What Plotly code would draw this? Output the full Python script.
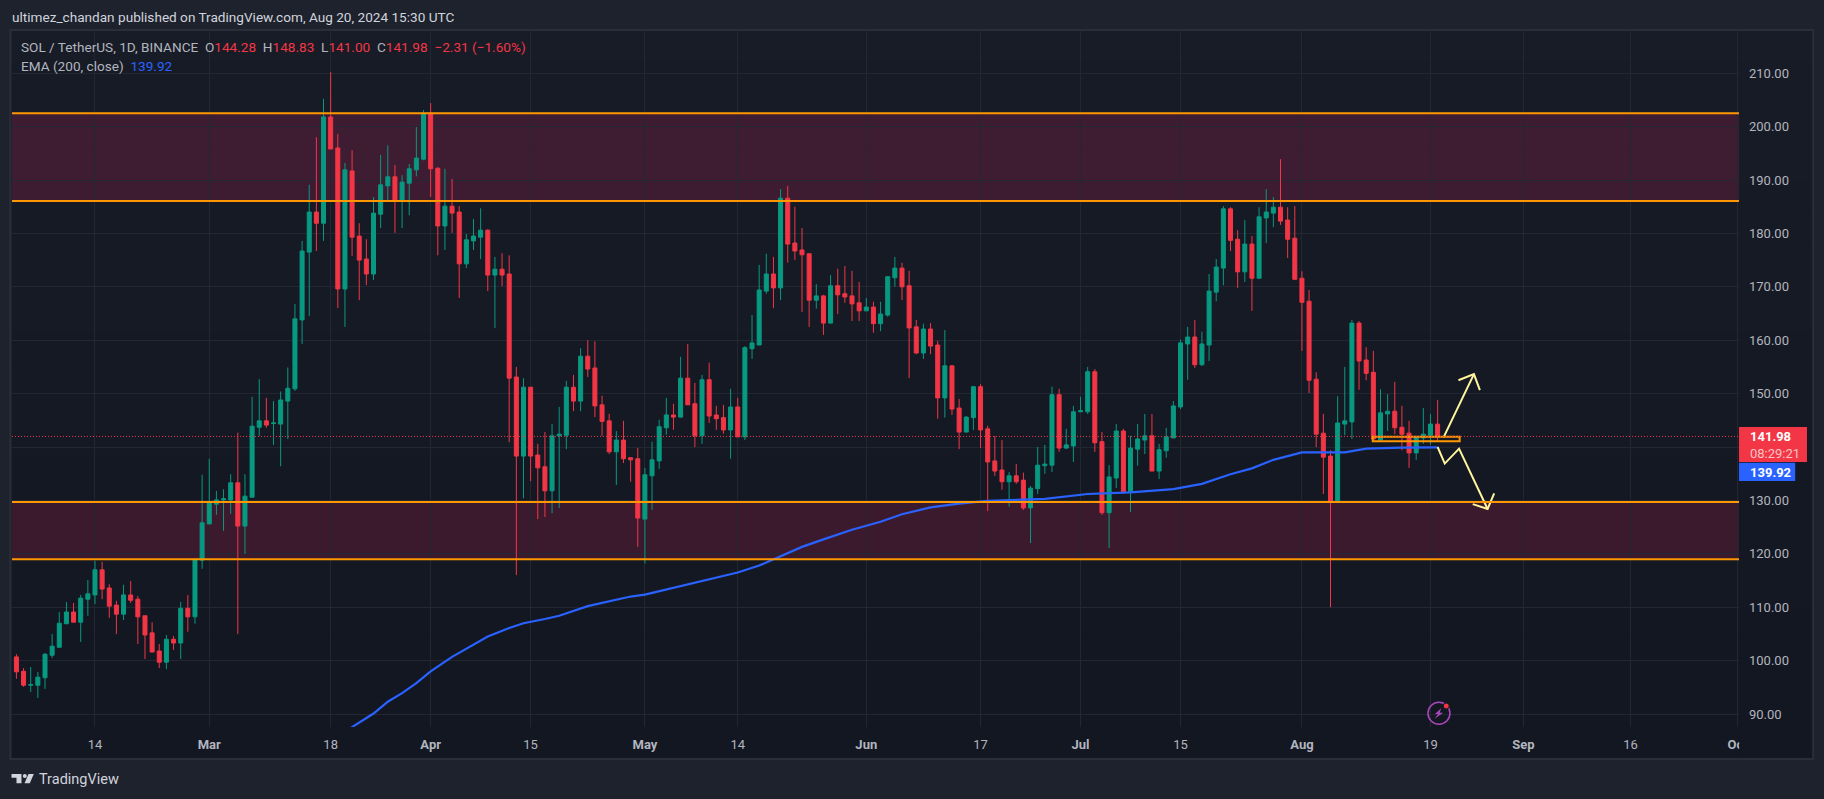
import plotly.graph_objects as go
import pandas as pd

# ---------- data ----------
first_day = "2024-02-03"
opens = [100.7,98.0,95.4,95.4,96.8,101.0,102.5,106.9,109.1,107.2,111.5,112.3,117.0,113.6,110.4,108.7,112.3,111.5,108.4,105.2,
 101.8,99.7,104.0,103.3,109.8,108.2,118.8,125.6,129.3,130.1,130.1,133.3,125.2,130.6,143.7,144.9,144.4,144.3,148.6,150.9,
 163.8,176.5,184.0,181.9,201.8,196.0,169.6,191.7,179.5,175.2,172.4,183.6,188.9,190.6,186.2,189.4,191.9,193.9,202.5,192.2,
 181.4,185.1,184.0,174.3,178.6,179.3,180.6,172.2,173.3,172.4,153.1,138.3,151.2,138.5,136.3,131.8,142.1,142.2,151.2,148.6,
 157.0,154.8,147.9,144.9,139.1,141.3,138.0,137.8,126.5,134.6,137.4,143.6,146.0,145.6,152.9,148.1,142.1,152.6,146.0,145.5,
 143.2,147.5,141.9,158.4,159.1,169.2,172.4,169.8,186.6,178.2,176.9,176.2,167.5,168.3,163.2,170.2,168.7,168.3,167.0,165.5,
 166.2,163.1,164.7,171.7,173.5,170.2,162.5,157.6,162.1,159.1,149.2,155.2,147.3,142.8,145.5,151.3,143.4,137.4,135.7,133.5,
 134.6,133.8,128.6,132.2,136.5,136.6,149.8,139.8,140.2,146.6,146.6,154.1,141.0,127.7,134.2,143.0,131.6,139.6,141.3,142.1,
 135.5,139.3,141.7,147.5,159.3,160.6,155.4,159.1,169.0,173.5,184.6,178.9,172.8,178.0,171.6,182.9,183.8,184.9,182.5,179.1,
 171.6,167.3,152.7,142.6,138.3,129.7,144.3,144.7,163.2,156.3,154.0,141.3,146.2,146.7,143.7,142.6,138.9,141.7,142.2,144.28]
highs = [101.2,98.6,98.8,97.9,101.4,105.0,109.1,111.0,110.8,112.3,115.1,118.7,118.5,114.3,111.2,114.2,114.9,112.1,108.4,107.2,
 103.1,104.8,104.6,111.0,112.3,119.0,134.8,137.8,131.8,132.1,134.9,142.7,134.9,149.4,152.7,149.2,148.6,150.4,154.9,166.8,
 178.6,189.1,198.0,205.2,210.2,198.6,193.2,195.6,181.9,178.9,186.8,194.7,196.5,192.8,190.9,193.0,199.9,203.1,204.4,192.4,
 192.1,190.2,185.1,179.9,182.7,184.7,180.8,175.6,176.3,175.9,155.0,152.9,151.2,140.6,142.8,144.3,147.5,152.4,153.5,158.5,
 160.0,159.8,149.6,146.2,143.0,144.9,138.0,139.8,136.1,141.0,145.1,149.2,148.1,156.9,159.3,152.0,153.5,155.8,147.7,147.9,
 150.9,149.2,158.9,164.7,174.1,176.2,175.6,188.3,188.9,185.0,181.0,176.2,170.5,168.5,172.2,173.4,173.9,173.0,170.9,167.9,
 167.2,167.2,171.9,175.6,174.5,173.0,163.8,163.1,163.2,159.9,161.9,155.2,149.0,145.8,151.4,151.8,144.0,142.1,141.3,135.3,
 136.8,135.2,132.7,140.0,140.4,151.3,150.9,143.4,147.7,149.4,155.0,154.6,142.8,136.6,144.3,143.4,142.1,144.3,146.2,146.2,
 140.6,143.6,148.6,160.1,162.5,163.8,161.6,172.4,175.2,185.1,184.9,180.6,182.5,179.5,184.9,188.3,186.8,193.9,184.9,185.1,
 172.9,169.4,154.0,146.2,139.4,149.5,155.0,163.8,163.6,158.7,158.0,150.8,149.9,152.2,147.7,144.9,141.9,147.3,146.2,148.83]
lows = [96.6,95.1,94.1,93.0,94.7,100.5,102.5,106.9,107.2,103.5,108.4,110.6,111.5,108.0,105.0,107.6,110.8,103.1,100.3,101.6,
 98.6,98.4,102.0,100.3,105.4,106.9,117.2,125.6,127.3,124.3,127.5,105.0,120.0,130.6,142.1,143.6,140.4,136.4,141.5,150.5,
 159.3,164.5,176.7,178.6,195.8,166.0,162.5,175.8,167.5,170.3,171.3,181.0,186.1,180.1,181.0,183.4,190.7,193.7,186.8,175.9,
 176.9,180.1,167.9,173.5,176.9,175.2,169.2,162.3,170.1,140.9,116.0,130.4,133.6,126.5,126.9,127.6,128.6,139.6,146.7,146.7,
 153.1,145.6,142.1,138.7,132.9,137.0,133.5,121.3,118.2,128.2,135.9,142.3,143.2,145.5,147.9,140.0,140.6,144.5,143.2,142.5,
 137.8,141.9,141.3,156.5,159.1,168.7,166.0,167.5,174.5,175.0,165.3,162.5,165.9,161.0,163.2,164.9,167.0,163.6,163.6,165.5,
 161.4,161.7,164.4,170.0,167.5,152.9,157.4,156.5,157.4,145.3,145.5,146.0,139.6,142.8,143.2,139.8,128.0,134.6,132.0,128.8,
 133.1,128.2,122.0,131.2,135.0,135.3,139.1,139.6,137.2,146.6,146.2,139.1,127.3,121.1,132.3,131.2,127.8,136.5,138.7,135.5,
 134.0,138.0,141.7,147.1,152.6,154.8,155.2,156.1,167.3,170.3,176.7,169.8,170.9,165.5,171.6,178.2,181.2,181.6,175.4,171.4,
 158.0,150.1,140.0,131.2,110.0,129.5,142.2,141.5,150.7,152.5,141.5,141.3,143.0,142.4,139.4,136.1,137.6,140.6,140.4,141.00]
closes = [97.9,95.4,95.5,96.9,101.2,102.7,107.0,109.1,107.2,111.7,112.5,117.0,113.4,110.2,108.7,112.3,111.3,108.2,104.8,101.6,
 99.7,104.0,103.3,109.8,108.2,119.0,125.8,129.5,130.1,130.3,133.3,125.2,130.8,143.9,144.9,144.1,144.5,148.8,151.0,164.0,
 176.7,184.0,181.9,201.8,195.8,169.6,191.9,179.3,175.0,172.4,183.8,189.1,190.6,186.1,189.6,192.1,194.1,202.5,192.1,181.4,
 185.1,183.8,174.3,178.8,179.5,180.6,172.2,173.3,172.2,152.9,138.3,151.2,138.3,136.1,131.8,142.1,142.4,151.2,148.6,157.0,
 154.6,147.7,144.8,139.1,141.3,137.8,137.6,126.7,134.8,137.6,143.8,146.0,145.6,152.9,147.9,142.1,152.6,145.8,145.3,143.2,
 147.5,141.9,158.6,159.5,169.4,172.4,169.8,186.6,178.0,176.7,176.0,167.5,168.3,163.2,170.2,168.5,168.1,166.8,165.5,166.2,
 163.1,164.9,171.9,173.5,170.0,162.3,157.6,162.1,158.9,149.2,155.2,147.1,142.8,145.6,151.3,143.2,137.2,135.5,133.5,134.6,
 133.5,128.6,132.3,136.6,136.8,149.8,139.8,140.4,146.6,146.8,154.1,140.8,127.7,134.4,143.0,131.6,139.8,141.5,142.1,135.5,
 139.5,141.9,147.7,159.5,160.6,155.4,159.3,169.2,173.7,184.6,178.7,172.8,178.0,171.6,183.1,184.0,184.9,182.3,178.9,171.4,
 167.1,152.5,142.4,138.1,129.7,144.5,144.9,163.2,156.1,153.8,141.5,146.4,146.7,143.6,142.4,138.9,141.9,142.4,144.3,141.98]

ema_dates = ["2024-03-18","2024-03-24","2024-03-26","2024-03-28","2024-03-30","2024-04-01","2024-04-04","2024-04-06","2024-04-09",
 "2024-04-12","2024-04-14","2024-04-17","2024-04-19","2024-04-23","2024-04-25","2024-04-29","2024-05-01","2024-05-03","2024-05-07",
 "2024-05-11","2024-05-14","2024-05-17","2024-05-19","2024-05-23","2024-05-26","2024-05-30","2024-06-03","2024-06-06","2024-06-10",
 "2024-06-14","2024-06-18","2024-06-26","2024-07-02","2024-07-08","2024-07-14","2024-07-18","2024-07-22","2024-07-25","2024-07-28",
 "2024-08-01","2024-08-07","2024-08-10","2024-08-15","2024-08-20"]
ema_values = [85.0,90.1,92.3,93.9,95.8,98.0,100.7,102.2,104.5,106.1,107.0,107.8,108.4,110.2,110.8,112.0,112.35,113.0,114.3,115.5,
 116.5,117.8,119.0,121.3,122.7,124.5,126.0,127.4,128.7,129.4,129.9,130.3,131.2,131.5,132.1,133.1,134.9,136.0,137.6,139.0,139.0,
 139.7,139.9,139.92]

zone_upper = (186.07, 202.5)
zone_lower = (119.0, 129.7)
box_dates = ("2024-08-10 22:00", "2024-08-23 02:00")
box_prices = (141.07, 141.93)
last_price = 141.98

arrow_up_x = ["2024-08-20 20:00","2024-08-25 02:00"]
arrow_up_y = [141.8,153.65]
head_up_x = ["2024-08-22 22:00","2024-08-25 02:00","2024-08-25 22:00"]
head_up_y = [152.5,153.65,150.65]
arrow_dn_x = ["2024-08-20 00:00","2024-08-21 00:00","2024-08-23 00:00","2024-08-27 00:00"]
arrow_dn_y = [140.0,136.9,139.7,128.4]
head_dn_x = ["2024-08-24 22:00","2024-08-27 00:00","2024-08-27 22:00"]
head_dn_y = [129.3,128.4,131.3]

x_tick_dates = ["2024-02-14","2024-03-01","2024-03-18","2024-04-01","2024-04-15","2024-05-01","2024-05-14","2024-06-01",
                "2024-06-17","2024-07-01","2024-07-15","2024-08-01","2024-08-19","2024-09-01","2024-09-16","2024-10-01"]
x_tick_text = ["14","<b>Mar</b>","18","<b>Apr</b>","15","<b>May</b>","14","<b>Jun</b>","17","<b>Jul</b>","15","<b>Aug</b>","19",
               "<b>Sep</b>","16","<b>Oct</b>"]
y_ticks = [90,100,110,120,130,140,150,160,170,180,190,200,210]
y_ticks_hidden_by_tags = [140]

dates = pd.date_range(first_day, periods=len(opens), freq="D")

# ---------- layout helpers (pixel placement of the page furniture) ----------
W, H = 1824, 799
L, R, T, B = 11.5, 1738.8, 30.0, 727.0
def px(x): return (x - L) / (R - L)
def py(y): return 1 - (y - T) / (B - T)
FONT = "Roboto"
OUTER = "#1e222d"
GREEN, RED = "#089981", "#F23645"
ORANGE = "#FF9800"
YELLOW = "#FFF59D"
BLUE = "#2962FF"
GREY = "#b2b5be"

shapes = []
def rect(x0, y0, x1, y1, fill, layer="below", line=None, lw=0):
    shapes.append(dict(type="rect", xref="paper", yref="paper", x0=px(x0), x1=px(x1), y0=py(y0), y1=py(y1),
                       fillcolor=fill, line=dict(color=line or fill, width=lw), layer=layer))

# pane gradient
steps = 24
for i in range(steps):
    t = i / (steps - 1)
    c_ = "rgb(%d,%d,%d)" % (24 - 5 * t, 28 - 5 * t, 39 - 5 * t)
    rect(10, 30 + i * 729 / steps, 1813, 30 + (i + 1) * 729 / steps + 0.5, c_)

# zones
for lo, hi in (zone_upper, zone_lower):
    shapes.append(dict(type="rect", xref="paper", yref="y", x0=0, x1=1, y0=lo, y1=hi,
                       fillcolor="rgba(160,30,75,0.29)", line=dict(width=0), layer="below"))
    for v in (lo, hi):
        shapes.append(dict(type="line", xref="paper", yref="y", x0=0, x1=1, y0=v, y1=v,
                           line=dict(color=ORANGE, width=2), layer="above"))
shapes.append(dict(type="rect", xref="x", yref="y", x0=box_dates[0], x1=box_dates[1], y0=box_prices[0], y1=box_prices[1],
                   line=dict(color=ORANGE, width=2), layer="above"))
shapes.append(dict(type="line", xref="paper", yref="y", x0=0, x1=1, y0=last_price, y1=last_price,
                   line=dict(color=RED, width=1, dash="1px,2px"), layer="above"))

# clip of the last time label, frame, price tags
rect(1739, 728, 1813, 758, "#131722", layer="above")
shapes.append(dict(type="rect", xref="paper", yref="paper", x0=px(10), x1=px(1813), y0=py(30), y1=py(759),
                   line=dict(color="#2a2e39", width=2), layer="above"))
rect(1738.8, 427, 1806.8, 462, RED, layer="above")
rect(1738.8, 462.7, 1795, 481, BLUE, layer="above")

# lightning badge
def poly(points, fill=None, line=None, lw=0, close=True):
    p = "M " + " L ".join(f"{px(x):.6f},{py(y):.6f}" for x, y in points) + (" Z" if close else "")
    shapes.append(dict(type="path", xref="paper", yref="paper", path=p, fillcolor=fill or "rgba(0,0,0,0)",
                       line=dict(color=line or "rgba(0,0,0,0)", width=lw), layer="above"))
shapes.append(dict(type="circle", xref="paper", yref="paper", x0=px(1427.7), x1=px(1449.7), y0=py(724.3), y1=py(702.3),
                   line=dict(color="#AB47BC", width=1.5), fillcolor="rgba(0,0,0,0)", layer="above"))
poly([(1441, 708.3), (1434.7, 714), (1438, 714), (1434, 719), (1443, 712.7), (1439.4, 712.7)], fill="#AB47BC")
shapes.append(dict(type="circle", xref="paper", yref="paper", x0=px(1443), x1=px(1449), y0=py(709), y1=py(703),
                   line=dict(color="#131722", width=1), fillcolor=RED, layer="above"))

# TradingView logo
poly([(11, 774), (21, 774), (21, 783.3), (16, 783.3), (16, 777.7), (11, 777.7)], fill="#d1d4dc")
shapes.append(dict(type="circle", xref="paper", yref="paper", x0=px(22.3), x1=px(26.3), y0=py(778), y1=py(774),
                   line=dict(width=0), fillcolor="#d1d4dc", layer="above"))
poly([(28, 774), (33.3, 774), (29.3, 783.3), (24, 783.3)], fill="#d1d4dc")

annotations = []
def text(x, y, s, size=13, color=GREY):
    annotations.append(dict(xref="paper", yref="paper", x=px(x), y=py(y), text=s, showarrow=False, xanchor="left",
                            yanchor="middle", align="left", borderpad=0,
                            font=dict(family=FONT, size=size, color=color)))

text(10, 17, "ultimez_chandan published on TradingView.com, Aug 20, 2024 15:30 UTC", 13.6, "#d1d4dc")
def c(s): return f'<span style="color:{RED}">{s}</span>'
text(20, 47, "SOL / TetherUS, 1D, BINANCE  O" + c("144.28") + "  H" + c("148.83") + "  L" + c("141.00") + "  C" + c("141.98")
     + "  " + c("−2.31 (−1.60%)"), 13.6, GREY)
text(20, 66, "EMA (200, close)  " + f'<span style="color:{BLUE}">139.92</span>', 13.6, GREY)
text(1749, 445, '<b>141.98</b><br><span style="color:#fbc4c8">08:29:21</span>', 13, "#ffffff")
text(1749, 472, "<b>139.92</b>", 13, "#ffffff")
text(38, 780, "TradingView", 14.5, "#d1d4dc")

fig = go.Figure()
fig.add_trace(go.Candlestick(
    x=dates, open=opens, high=highs, low=lows, close=closes, whiskerwidth=0,
    increasing=dict(line=dict(color=GREEN, width=1), fillcolor=GREEN),
    decreasing=dict(line=dict(color=RED, width=1), fillcolor=RED),
    name="SOL / TetherUS"))
fig.add_trace(go.Scatter(x=ema_dates, y=ema_values, mode="lines", line=dict(color=BLUE, width=2.2), name="EMA (200, close)"))
for xs, ys in ((arrow_up_x, arrow_up_y), (head_up_x, head_up_y), (arrow_dn_x, arrow_dn_y), (head_dn_x, head_dn_y)):
    fig.add_trace(go.Scatter(x=xs, y=ys, mode="lines", line=dict(color=YELLOW, width=2), showlegend=False))

fig.update_layout(
    width=W, height=H, autosize=False, showlegend=False,
    margin=dict(l=L, r=W - R, t=T, b=H - B, pad=0),
    paper_bgcolor=OUTER, plot_bgcolor="rgba(0,0,0,0)",
    boxgap=0.44, boxgroupgap=0,
    font=dict(family=FONT, size=13, color=GREY),
    shapes=shapes, annotations=annotations,
    xaxis=dict(type="date", range=["2024-02-02 09:07", "2024-10-01 04:48"], rangeslider=dict(visible=False),
               tickmode="array", tickvals=x_tick_dates, ticktext=x_tick_text, ticks="", showline=False, zeroline=False,
               showgrid=True, gridcolor="#232733", gridwidth=1, tickfont=dict(family=FONT, size=13, color=GREY),
               ticklabelstandoff=8, automargin=False, tickangle=0),
    yaxis=dict(side="right", range=[87.57, 218.09], tickmode="array", tickvals=y_ticks,
               ticktext=["" if v in y_ticks_hidden_by_tags else f"{v:.2f}" for v in y_ticks], ticks="", showline=False,
               zeroline=False, showgrid=True, gridcolor="#232733", gridwidth=1,
               tickfont=dict(family=FONT, size=13, color=GREY), ticklabelstandoff=9, automargin=False),
)

fig.write_html("out.html", config={"displayModeBar": False},
               post_script="document.body.style.margin='0';document.body.style.background='#1e222d';document.documentElement.style.overflow='hidden';")
